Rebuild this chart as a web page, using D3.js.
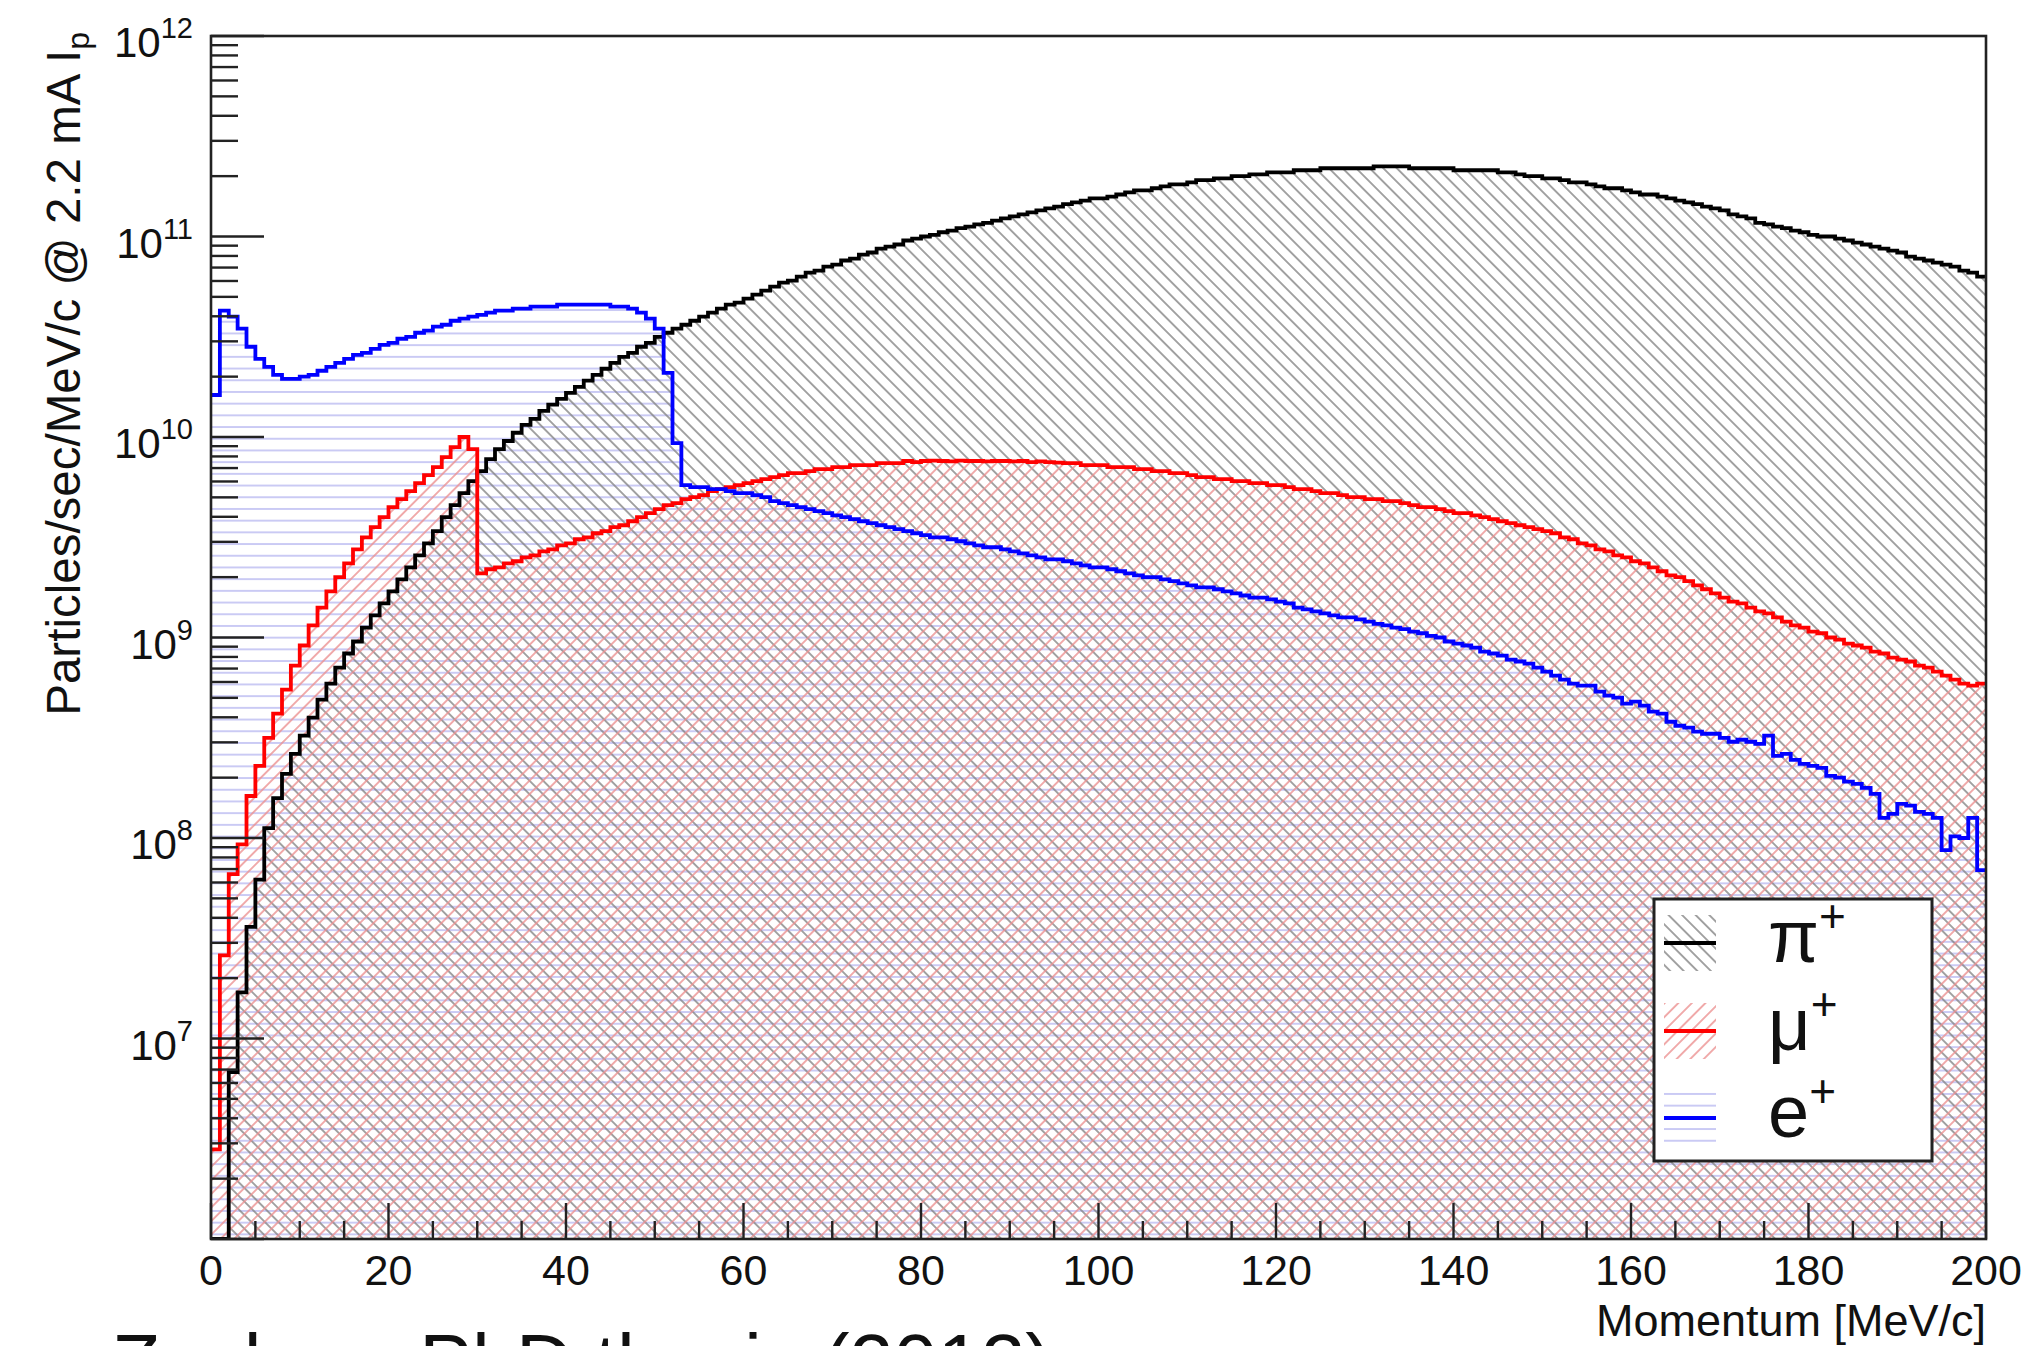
<!DOCTYPE html>
<html><head><meta charset="utf-8">
<script src="https://cdn.jsdelivr.net/npm/d3@7"></script>
<style>
body{margin:0;background:#fff}
svg{display:block}
text{font-family:"Liberation Sans",Arial,Helvetica,sans-serif;fill:#111}
</style>
</head><body>
<svg id="chart" width="2029" height="1346"></svg>
<script>
// ---- data: 1 MeV/c bins from 0 to 200 MeV/c ----
const binLowEdges = d3.range(0, 200, 1);
const xTickValues = [0, 20, 40, 60, 80, 100, 120, 140, 160, 180, 200];
const yDecades = [7, 8, 9, 10, 11, 12];
const seriesLabels = ["π", "μ", "e"];

const piPlus = [0, 0, 6.8e6, 1.7e7, 3.6e7, 6.2e7, 1.12e8, 1.58e8, 2.09e8, 2.63e8,
 3.24e8, 3.98e8, 4.9e8, 5.89e8, 7.08e8, 8.32e8, 9.55e8, 1.12e9, 1.29e9, 1.48e9,
 1.7e9, 1.95e9, 2.24e9, 2.57e9, 2.95e9, 3.39e9, 3.98e9, 4.57e9, 5.25e9, 6.03e9,
 6.76e9, 7.76e9, 8.71e9, 9.55e9, 1.05e10, 1.15e10, 1.23e10, 1.35e10, 1.45e10, 1.55e10,
 1.66e10, 1.78e10, 1.91e10, 2.04e10, 2.19e10, 2.34e10, 2.51e10, 2.63e10, 2.82e10, 2.95e10,
 3.16e10, 3.31e10, 3.47e10, 3.63e10, 3.8e10, 3.98e10, 4.17e10, 4.37e10, 4.57e10, 4.68e10,
 4.9e10, 5.13e10, 5.37e10, 5.62e10, 5.89e10, 6.03e10, 6.31e10, 6.61e10, 6.76e10, 7.08e10,
 7.24e10, 7.59e10, 7.76e10, 8.13e10, 8.32e10, 8.71e10, 8.91e10, 9.12e10, 9.55e10, 9.77e10,
 1.0e11, 1.02e11, 1.05e11, 1.07e11, 1.1e11, 1.12e11, 1.15e11, 1.17e11, 1.2e11, 1.23e11,
 1.26e11, 1.29e11, 1.32e11, 1.35e11, 1.38e11, 1.41e11, 1.45e11, 1.48e11, 1.51e11, 1.55e11,
 1.55e11, 1.58e11, 1.62e11, 1.66e11, 1.7e11, 1.7e11, 1.74e11, 1.78e11, 1.82e11, 1.82e11,
 1.86e11, 1.91e11, 1.91e11, 1.95e11, 1.95e11, 2.0e11, 2.0e11, 2.04e11, 2.04e11, 2.09e11,
 2.09e11, 2.09e11, 2.14e11, 2.14e11, 2.14e11, 2.19e11, 2.19e11, 2.19e11, 2.19e11, 2.19e11,
 2.19e11, 2.24e11, 2.24e11, 2.24e11, 2.24e11, 2.19e11, 2.19e11, 2.19e11, 2.19e11, 2.19e11,
 2.14e11, 2.14e11, 2.14e11, 2.14e11, 2.14e11, 2.09e11, 2.09e11, 2.04e11, 2.0e11, 2.0e11,
 1.95e11, 1.95e11, 1.91e11, 1.86e11, 1.86e11, 1.82e11, 1.78e11, 1.74e11, 1.74e11, 1.7e11,
 1.66e11, 1.62e11, 1.62e11, 1.58e11, 1.55e11, 1.51e11, 1.48e11, 1.45e11, 1.41e11, 1.38e11,
 1.35e11, 1.29e11, 1.26e11, 1.23e11, 1.17e11, 1.15e11, 1.12e11, 1.1e11, 1.07e11, 1.05e11,
 1.02e11, 1.0e11, 1.0e11, 9.77e10, 9.55e10, 9.33e10, 9.12e10, 8.91e10, 8.71e10, 8.51e10,
 8.32e10, 7.94e10, 7.76e10, 7.59e10, 7.41e10, 7.24e10, 7.08e10, 6.76e10, 6.61e10, 6.31e10];

const muPlus = [2.8e6, 2.6e7, 6.6e7, 9.3e7, 1.62e8, 2.29e8, 3.16e8, 4.17e8, 5.5e8, 7.24e8,
 9.12e8, 1.15e9, 1.41e9, 1.7e9, 2.0e9, 2.34e9, 2.75e9, 3.16e9, 3.55e9, 3.98e9,
 4.47e9, 4.9e9, 5.37e9, 5.89e9, 6.46e9, 7.08e9, 7.94e9, 8.91e9, 1.0e10, 8.71e9,
 2.09e9, 2.19e9, 2.24e9, 2.34e9, 2.4e9, 2.51e9, 2.57e9, 2.69e9, 2.75e9, 2.88e9,
 2.95e9, 3.09e9, 3.16e9, 3.31e9, 3.39e9, 3.55e9, 3.63e9, 3.8e9, 3.98e9, 4.17e9,
 4.37e9, 4.57e9, 4.68e9, 4.9e9, 5.01e9, 5.13e9, 5.37e9, 5.5e9, 5.62e9, 5.75e9,
 5.89e9, 6.03e9, 6.17e9, 6.31e9, 6.46e9, 6.61e9, 6.61e9, 6.76e9, 6.92e9, 6.92e9,
 7.08e9, 7.08e9, 7.24e9, 7.24e9, 7.24e9, 7.41e9, 7.41e9, 7.41e9, 7.59e9, 7.5e9,
 7.59e9, 7.62e9, 7.59e9, 7.55e9, 7.62e9, 7.59e9, 7.59e9, 7.55e9, 7.59e9, 7.59e9,
 7.55e9, 7.59e9, 7.5e9, 7.55e9, 7.5e9, 7.45e9, 7.41e9, 7.41e9, 7.24e9, 7.24e9,
 7.24e9, 7.08e9, 7.08e9, 7.08e9, 6.92e9, 6.92e9, 6.76e9, 6.76e9, 6.61e9, 6.61e9,
 6.46e9, 6.31e9, 6.31e9, 6.17e9, 6.17e9, 6.03e9, 6.03e9, 5.89e9, 5.89e9, 5.75e9,
 5.75e9, 5.62e9, 5.5e9, 5.5e9, 5.37e9, 5.25e9, 5.25e9, 5.13e9, 5.01e9, 5.01e9,
 4.9e9, 4.9e9, 4.79e9, 4.79e9, 4.68e9, 4.57e9, 4.47e9, 4.47e9, 4.37e9, 4.27e9,
 4.17e9, 4.17e9, 4.07e9, 3.98e9, 3.89e9, 3.8e9, 3.72e9, 3.63e9, 3.55e9, 3.47e9,
 3.39e9, 3.31e9, 3.16e9, 3.09e9, 2.95e9, 2.88e9, 2.75e9, 2.69e9, 2.57e9, 2.51e9,
 2.4e9, 2.34e9, 2.24e9, 2.14e9, 2.04e9, 2.0e9, 1.91e9, 1.82e9, 1.74e9, 1.66e9,
 1.58e9, 1.51e9, 1.48e9, 1.41e9, 1.35e9, 1.32e9, 1.26e9, 1.2e9, 1.15e9, 1.12e9,
 1.07e9, 1.05e9, 1.0e9, 9.77e8, 9.33e8, 9.12e8, 8.91e8, 8.51e8, 8.32e8, 7.94e8,
 7.76e8, 7.59e8, 7.24e8, 7.08e8, 6.76e8, 6.46e8, 6.17e8, 5.89e8, 5.75e8, 5.89e8];

const ePlus = [1.62e10, 4.27e10, 3.98e10, 3.47e10, 2.82e10, 2.45e10, 2.24e10, 2.04e10, 1.95e10, 1.95e10,
 2.0e10, 2.04e10, 2.14e10, 2.24e10, 2.34e10, 2.45e10, 2.57e10, 2.63e10, 2.75e10, 2.88e10,
 2.95e10, 3.09e10, 3.16e10, 3.31e10, 3.39e10, 3.55e10, 3.63e10, 3.8e10, 3.89e10, 3.98e10,
 4.07e10, 4.17e10, 4.27e10, 4.27e10, 4.37e10, 4.37e10, 4.47e10, 4.47e10, 4.47e10, 4.57e10,
 4.57e10, 4.57e10, 4.57e10, 4.57e10, 4.57e10, 4.47e10, 4.47e10, 4.37e10, 4.17e10, 3.89e10,
 3.47e10, 2.09e10, 9.33e9, 5.75e9, 5.62e9, 5.62e9, 5.5e9, 5.5e9, 5.37e9, 5.25e9,
 5.25e9, 5.13e9, 5.01e9, 4.79e9, 4.68e9, 4.57e9, 4.47e9, 4.37e9, 4.27e9, 4.17e9,
 4.07e9, 3.98e9, 3.89e9, 3.8e9, 3.72e9, 3.63e9, 3.55e9, 3.47e9, 3.39e9, 3.31e9,
 3.24e9, 3.16e9, 3.16e9, 3.09e9, 3.02e9, 2.95e9, 2.88e9, 2.82e9, 2.82e9, 2.75e9,
 2.69e9, 2.63e9, 2.57e9, 2.51e9, 2.45e9, 2.45e9, 2.4e9, 2.34e9, 2.29e9, 2.24e9,
 2.24e9, 2.19e9, 2.14e9, 2.09e9, 2.04e9, 2.0e9, 2.0e9, 1.95e9, 1.91e9, 1.86e9,
 1.82e9, 1.78e9, 1.78e9, 1.74e9, 1.7e9, 1.66e9, 1.62e9, 1.58e9, 1.58e9, 1.55e9,
 1.51e9, 1.48e9, 1.41e9, 1.38e9, 1.35e9, 1.32e9, 1.29e9, 1.26e9, 1.26e9, 1.23e9,
 1.2e9, 1.17e9, 1.15e9, 1.12e9, 1.1e9, 1.07e9, 1.05e9, 1.02e9, 1.0e9, 9.55e8,
 9.33e8, 9.12e8, 8.91e8, 8.51e8, 8.32e8, 8.13e8, 7.76e8, 7.59e8, 7.41e8, 7.08e8,
 6.76e8, 6.46e8, 6.17e8, 5.89e8, 5.75e8, 5.75e8, 5.37e8, 5.13e8, 5.01e8, 4.68e8,
 4.79e8, 4.57e8, 4.27e8, 4.17e8, 3.8e8, 3.63e8, 3.55e8, 3.39e8, 3.31e8, 3.31e8,
 3.16e8, 3.02e8, 3.09e8, 3.02e8, 2.95e8, 3.24e8, 2.57e8, 2.63e8, 2.45e8, 2.34e8,
 2.29e8, 2.24e8, 2.04e8, 2.0e8, 1.91e8, 1.86e8, 1.78e8, 1.66e8, 1.26e8, 1.32e8,
 1.48e8, 1.45e8, 1.35e8, 1.32e8, 1.26e8, 8.71e7, 1.02e8, 1.0e8, 1.26e8, 6.92e7];

// ---- layout ----
const W = 2029, H = 1346;
const plot = {left: 211, right: 1986, top: 36, bottom: 1239};
const yMin = 1e6, yMax = 1e12;

const svg = d3.select("#chart");
svg.append("rect").attr("width", W).attr("height", H).attr("fill", "#fff");

const x = d3.scaleLinear().domain([0, 200]).range([plot.left, plot.right]);
const y = d3.scaleLog().domain([yMin, yMax]).range([plot.bottom, plot.top]);

// ---- hatch patterns ----
const defs = svg.append("defs");
function hatch(id, angle, spacing, color, width) {
  const p = defs.append("pattern").attr("id", id)
    .attr("patternUnits", "userSpaceOnUse")
    .attr("width", spacing).attr("height", spacing)
    .attr("patternTransform", `rotate(${angle})`);
  p.append("line").attr("x1", spacing / 2).attr("y1", -1)
    .attr("x2", spacing / 2).attr("y2", spacing + 1)
    .attr("stroke", color).attr("stroke-width", width);
}
hatch("hatchPi", -45, 9.6, "#858585", 1.5);   // "\\\\"
hatch("hatchMu", 45, 9.6, "#ec9191", 1.5);    // "////"
hatch("hatchE", 90, 11.7, "#c6c6f4", 1.8);    // horizontal

defs.append("clipPath").attr("id", "plotClip").append("rect")
  .attr("x", plot.left).attr("y", plot.top)
  .attr("width", plot.right - plot.left).attr("height", plot.bottom - plot.top);

const series = [
  {name: "pi", values: piPlus, color: "#000000", pattern: "hatchPi"},
  {name: "mu", values: muPlus, color: "#ff0000", pattern: "hatchMu"},
  {name: "e",  values: ePlus,  color: "#0000ff", pattern: "hatchE"}
];

function points(values) {
  const pts = binLowEdges.map((lo, i) => [lo, values[i]]);
  pts.push([200, values[values.length - 1]]);
  return pts;
}
const yc = v => y(Math.max(v, yMin));

const area = d3.area().curve(d3.curveStepAfter)
  .x(d => x(d[0])).y0(plot.bottom).y1(d => yc(d[1]));
const line = d3.line().curve(d3.curveStepAfter)
  .x(d => x(d[0])).y(d => yc(d[1]));

const gPlot = svg.append("g").attr("clip-path", "url(#plotClip)");
// fills
[series[2], series[0], series[1]].forEach(s => {
  gPlot.append("path").attr("d", area(points(s.values)))
    .attr("fill", `url(#${s.pattern})`).attr("stroke", "none");
});
// outlines
series.forEach(s => {
  gPlot.append("path").attr("d", line(points(s.values)))
    .attr("fill", "none").attr("stroke", s.color)
    .attr("stroke-width", 3.8).attr("stroke-linejoin", "miter");
});

// ---- frame & ticks ----
const axisColor = "#222";
svg.append("rect").attr("x", plot.left).attr("y", plot.top)
  .attr("width", plot.right - plot.left).attr("height", plot.bottom - plot.top)
  .attr("fill", "none").attr("stroke", axisColor).attr("stroke-width", 2.6);

const gAxes = svg.append("g").attr("stroke", axisColor).attr("stroke-width", 2.4);
// x ticks
d3.range(0, 201, 5).forEach(v => {
  const major = v % 20 === 0;
  gAxes.append("line").attr("x1", x(v)).attr("x2", x(v))
    .attr("y1", plot.bottom).attr("y2", plot.bottom - (major ? 36 : 18));
});
// y ticks
y.ticks().forEach(v => {
  const e = Math.log10(v);
  const major = Math.abs(e - Math.round(e)) < 1e-9;
  gAxes.append("line").attr("x1", plot.left).attr("x2", plot.left + (major ? 53 : 27))
    .attr("y1", y(v)).attr("y2", y(v));
});

// x tick labels
xTickValues.forEach(v => {
  svg.append("text").attr("x", x(v)).attr("y", 1285)
    .attr("text-anchor", "middle").style("font-size", "43px").text(v);
});
// y tick labels
yDecades.forEach(k => {
  const t = svg.append("text").attr("x", 193).attr("y", y(Math.pow(10, k)) + 21)
    .attr("text-anchor", "end").style("font-size", "42px");
  t.append("tspan").text("10");
  t.append("tspan").attr("dy", -19).style("font-size", "29px").text(k);
});

// axis titles
svg.append("text").attr("x", plot.right).attr("y", 1336)
  .attr("text-anchor", "end").style("font-size", "45px").text("Momentum [MeV/c]");

const yt = svg.append("text").attr("transform", "translate(80,32) rotate(-90)")
  .attr("text-anchor", "end").style("font-size", "47.5px");
yt.append("tspan").text("Particles/sec/MeV/c @ 2.2 mA I");
yt.append("tspan").attr("dy", 9).style("font-size", "32px").text("p");

// ---- legend ----
const lg = {x: 1654, y: 899, w: 278, h: 262};
svg.append("rect").attr("x", lg.x).attr("y", lg.y).attr("width", lg.w).attr("height", lg.h)
  .attr("fill", "#fff").attr("stroke", axisColor).attr("stroke-width", 3);
const rowCenters = [943, 1031, 1118];
series.forEach((s, i) => {
  const cy = rowCenters[i];
  svg.append("rect").attr("x", 1664).attr("y", cy - 28).attr("width", 52).attr("height", 56)
    .attr("fill", `url(#${s.pattern})`);
  svg.append("line").attr("x1", 1664).attr("x2", 1716).attr("y1", cy).attr("y2", cy)
    .attr("stroke", s.color).attr("stroke-width", 4);
  const t = svg.append("text").attr("x", 1768).attr("y", cy + 19).style("font-size", "74px");
  t.append("tspan").text(seriesLabels[i]);
  t.append("tspan").attr("dy", -30).style("font-size", "46px").text("+");
});

// ---- caption cut by page edge ----
svg.append("text").attr("x", 112).attr("y", 1390).style("font-size", "79px")
  .text("Zachary PhD thesis (2013)");
</script>
</body></html>
